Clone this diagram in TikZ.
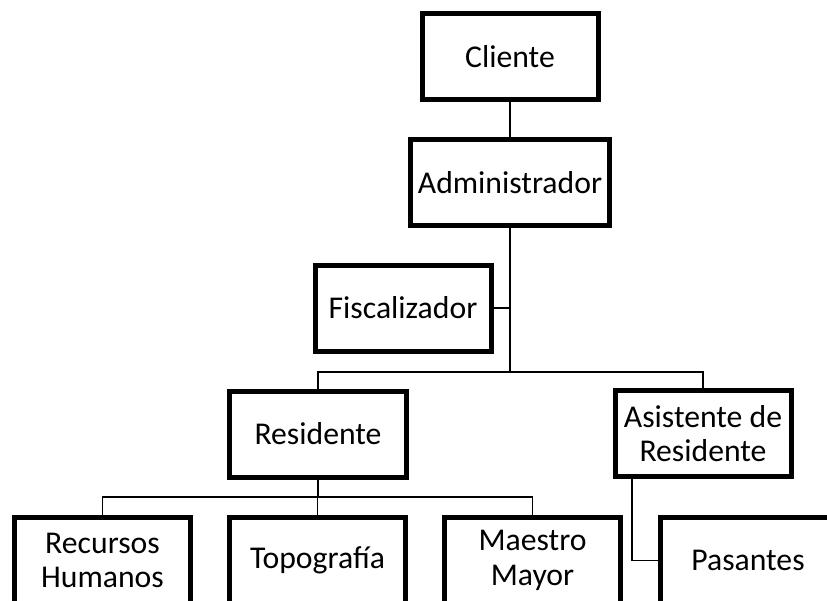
\documentclass[tikz,border=0pt]{standalone}
\usepackage{fontspec}
\setmainfont{Carlito}
\begin{document}
\begin{tikzpicture}[x=1pt,y=-1pt,
  box/.style={draw=black,line width=5pt,fill=white,inner sep=0pt,
    minimum width=176pt,minimum height=86pt,align=center,
    font=\fontsize{31.7}{34.5}\selectfont},
  conn/.style={draw=black,line width=1.6pt}]
\useasboundingbox (0,0) rectangle (827,600);
\clip (0,0) rectangle (827,600);
\node[box] (cli) at (510,56.5) {Cliente};
\node[box,minimum width=199pt] (adm) at (510,182.5) {Administrador};
\node[box] (fis) at (403,308) {Fiscalizador};
\node[box,minimum width=177pt] (res) at (318,434) {Residente};
\node[box] (asi) at (703,433.5) {Asistente de\\Residente};
\node[box] (rec) at (102.5,560.5) {Recursos\\Humanos};
\node[box] (top) at (317.5,560.5) {Topografía};
\node[box] (mae) at (532.5,560.5) {Maestro\\Mayor};
\node[box] (pas) at (748,560.5) {Pasantes};
\coordinate (j1) at (510,372);
\coordinate (j2) at (318,497);
\coordinate (j3) at (632,560.5);
\draw[conn] (cli.south) -- (adm.north);
\draw[conn] (adm.south) -- (j1);
\draw[conn] (fis.east) -- (fis.east -| j1);
\draw[conn] (res.north) -- (res.north |- j1) -- (asi.north |- j1) -- (asi.north);
\draw[conn] (res.south) -- (j2);
\draw[conn] (rec.north) -- (rec.north |- j2) -- (mae.north |- j2) -- (mae.north);
\draw[conn] (top.north) -- (top.north |- j2);
\draw[conn] (asi.south -| j3) -- (j3) -- (pas.west);
\end{tikzpicture}
\end{document}
